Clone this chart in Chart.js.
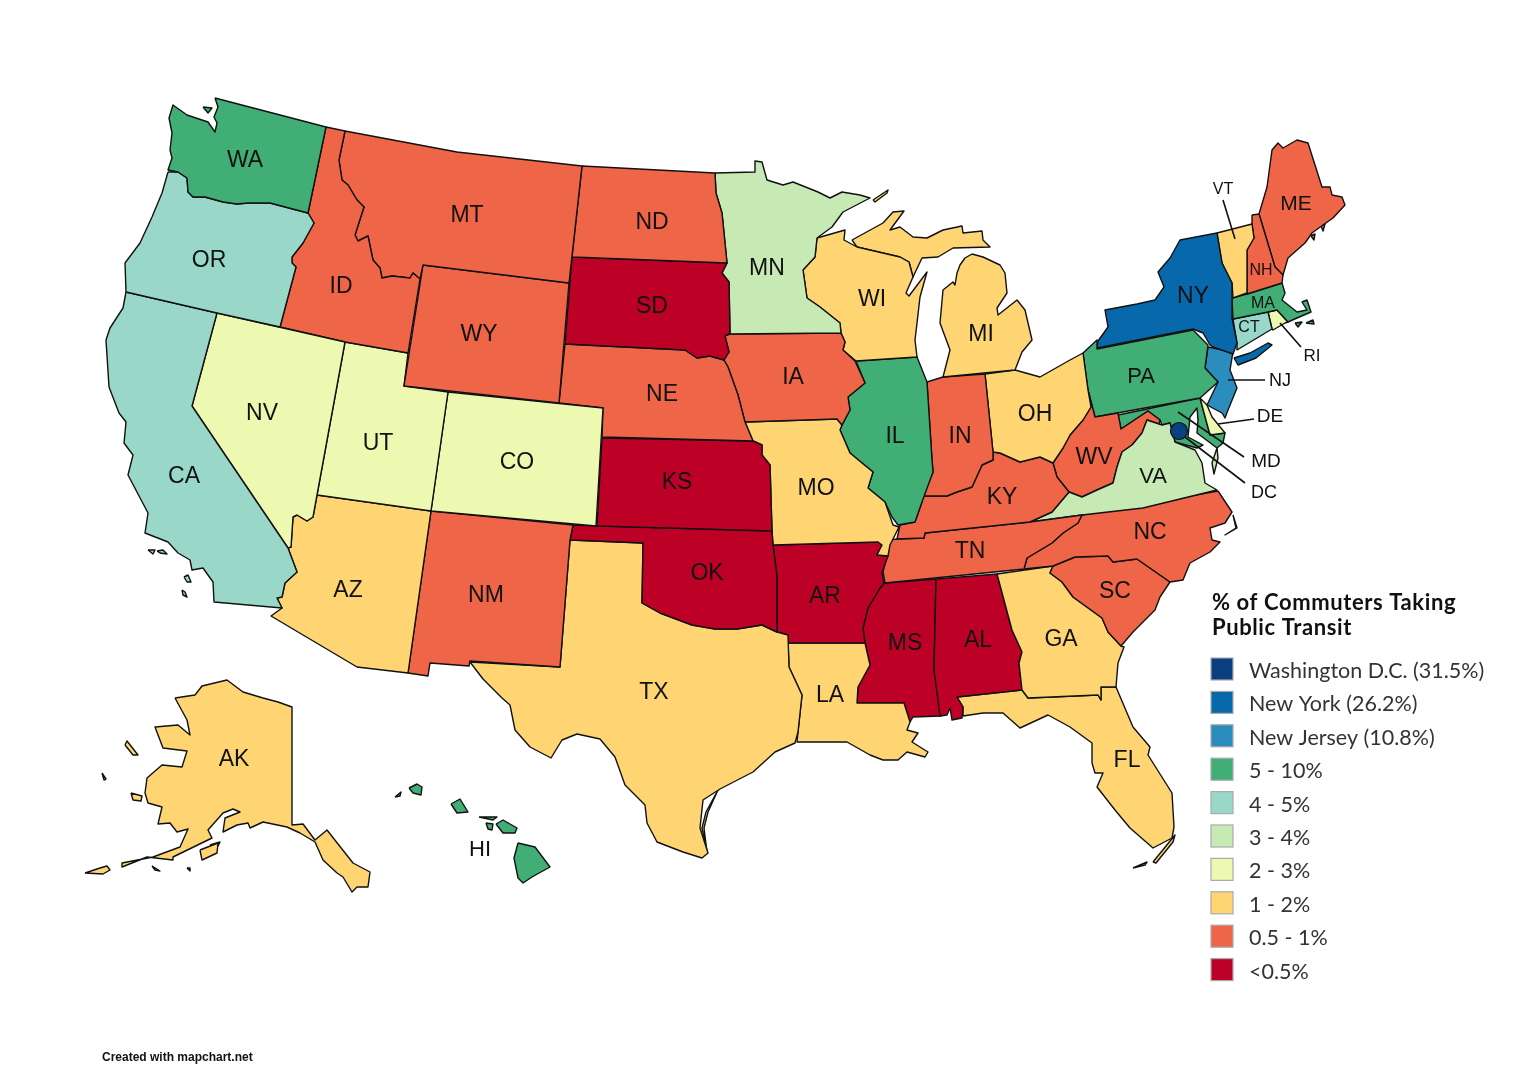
<!DOCTYPE html>
<html lang="en">
<head>
<meta charset="utf-8" />
<title>% of Commuters Taking Public Transit</title>
<style>
  html, body { margin: 0; background: #fff; }
  #wrap { width: 1536px; height: 1075px; }
</style>
</head>
<body>
<div id="wrap"><canvas id="map" width="1536" height="1075"></canvas></div>
<script src="https://cdn.jsdelivr.net/npm/chart.js@4.4.4/dist/chart.umd.min.js"></script>
<script>
// legend categories, top to bottom
const legendLabels = ['Washington D.C. (31.5%)','New York (26.2%)','New Jersey (10.8%)','5 - 10%','4 - 5%','3 - 4%','2 - 3%','1 - 2%','0.5 - 1%','<0.5%'];
const legendColors = ['#0a3f82','#0868ac','#2b8cbe','#41ae76','#99d8c9','#c7e9b4','#edf8b1','#fed572','#ef6548','#bd0026'];

// band of each state (index into legendLabels)
const bands = {
  NY:1, NJ:2,
  WA:3, IL:3, PA:3, MD:3, MA:3, HI:3,
  OR:4, CA:4, CT:4,
  MN:5, VA:5,
  NV:6, UT:6, CO:6, DE:6, RI:6,
  AZ:7, TX:7, LA:7, MO:7, WI:7, MI:7, OH:7, GA:7, FL:7, VT:7, AK:7,
  ID:8, MT:8, WY:8, NM:8, ND:8, NE:8, IA:8, IN:8, KY:8, TN:8, WV:8, NC:8, SC:8, ME:8, NH:8,
  SD:9, KS:9, OK:9, AR:9, MS:9, AL:9
};

// state outlines, one list per ring
const WA = [[[215,98],[326,127],[308,213],[270,203],[248,203],[237,204],[223,202],[205,197],[193,197],[188,192],[187,178],[178,172],[168,170],[172,158],[170,150],[172,133],[169,118],[173,105],[187,115],[208,122],[215,132],[217,123],[214,117],[218,107]],[[203,107],[212,108],[208,113]]];
const OR = [[[168,172],[178,172],[187,178],[188,192],[193,197],[205,197],[223,202],[237,204],[248,203],[270,203],[308,213],[314,223],[303,243],[292,257],[292,263],[296,267],[280,327],[217,313],[126,292],[125,263],[140,243],[152,217],[162,193]]];
const CA = [[[126,292],[217,313],[192,406],[288,548],[297,572],[285,583],[282,597],[277,598],[282,608],[214,602],[213,582],[203,568],[192,570],[190,560],[178,553],[168,542],[145,533],[148,513],[128,475],[133,455],[124,443],[126,422],[119,413],[109,387],[106,340],[110,328],[123,308]],[[148,550],[155,550],[153,554]],[[157,551],[163,550],[167,554],[160,553]],[[184,577],[188,575],[191,582],[187,582]],[[182,590],[185,592],[187,597],[183,595]]];
const NV = [[[217,313],[345,342],[317,495],[313,517],[307,521],[297,515],[293,517],[291,547],[288,548],[192,406]]];
const ID = [[[326,127],[345,131],[339,160],[342,180],[348,185],[357,200],[364,207],[355,235],[358,241],[368,236],[373,260],[380,268],[382,278],[392,276],[410,278],[413,273],[420,279],[408,353],[345,342],[280,327],[296,267],[292,263],[292,257],[303,243],[314,223],[308,213]]];
const MT = [[[345,131],[457,152],[582,166],[569,283],[423,265],[420,279],[413,273],[410,278],[392,276],[382,278],[380,268],[373,260],[368,236],[358,241],[355,235],[364,207],[357,200],[348,185],[342,180],[339,160]]];
const WY = [[[423,265],[569,283],[559,403],[404,386]]];
const UT = [[[345,342],[408,353],[404,386],[448,392],[431,511],[317,495]]];
const CO = [[[448,392],[603,408],[596,526],[431,511]]];
const AZ = [[[317,495],[431,511],[408,673],[357,667],[271,616],[282,608],[277,598],[282,597],[285,583],[297,572],[288,548],[291,547],[293,517],[297,515],[307,521],[313,517]]];
const NM = [[[431,511],[573,525],[570,540],[560,667],[470,661],[469,666],[430,663],[428,676],[408,673]]];
const ND = [[[582,166],[715,173],[716,193],[722,213],[727,263],[572,257]]];
const SD = [[[572,257],[727,263],[722,273],[729,282],[730,333],[725,336],[729,352],[724,360],[710,356],[697,358],[685,350],[565,344]]];
const NE = [[[565,344],[685,350],[697,358],[710,356],[724,360],[728,367],[738,395],[745,422],[753,441],[602,437],[603,408],[559,403]]];
const KS = [[[602,438],[753,441],[762,445],[762,455],[770,465],[772,531],[597,526]]];
const OK = [[[573,525],[772,531],[773,545],[777,577],[777,632],[762,625],[737,629],[715,629],[692,625],[660,613],[642,603],[643,543],[570,540]]];
const TX = [[[570,540],[643,543],[642,603],[660,613],[692,625],[715,629],[737,629],[762,625],[777,632],[788,635],[789,667],[802,695],[798,732],[795,743],[775,752],[753,772],[720,789],[703,800],[700,828],[708,853],[702,858],[683,852],[657,842],[647,823],[645,805],[625,785],[615,757],[600,739],[577,734],[562,740],[551,758],[530,747],[515,730],[510,705],[502,698],[483,679],[470,662],[560,667]],[[718,790],[706,812],[702,828],[707,852],[704,828],[708,812]]];
const MN = [[[715,173],[755,172],[755,161],[762,162],[767,180],[783,185],[793,182],[818,192],[830,198],[842,192],[860,195],[870,198],[843,212],[832,227],[817,238],[815,257],[803,270],[807,298],[820,307],[840,323],[841,333],[730,334],[729,282],[722,273],[727,263],[722,213],[716,193]]];
const IA = [[[730,334],[725,336],[729,352],[724,360],[728,367],[738,395],[745,422],[837,419],[842,425],[850,410],[848,397],[865,383],[855,361],[843,350],[845,342],[841,333]]];
const MO = [[[745,422],[837,419],[842,425],[840,430],[850,453],[862,463],[873,472],[868,488],[885,502],[893,525],[899,527],[890,545],[888,556],[877,555],[882,545],[878,542],[773,545],[772,531],[770,465],[762,455],[762,445],[753,441]]];
const AR = [[[773,545],[878,542],[882,545],[877,555],[888,556],[882,573],[884,583],[880,588],[868,608],[863,628],[865,643],[788,643],[788,635],[777,632],[777,577]]];
const LA = [[[788,643],[865,643],[870,665],[858,687],[857,703],[904,703],[910,722],[907,730],[918,733],[912,742],[928,752],[925,757],[907,752],[898,760],[883,760],[870,755],[847,742],[810,742],[797,742],[798,732],[802,695],[789,667]]];
const WI = [[[817,238],[845,230],[844,240],[857,247],[900,257],[909,262],[913,277],[906,293],[909,296],[927,272],[920,297],[917,323],[915,340],[917,357],[856,361],[843,350],[845,342],[841,333],[840,323],[820,307],[807,298],[803,270],[815,257]]];
const MI = [[[852,240],[883,223],[893,212],[904,211],[890,230],[900,227],[913,237],[927,238],[943,230],[962,226],[963,233],[982,231],[983,240],[990,247],[953,248],[938,257],[922,258],[913,277],[909,262],[900,257],[857,247]],[[972,254],[983,257],[1000,265],[1005,273],[1007,293],[997,308],[998,315],[1017,300],[1025,310],[1032,340],[1022,352],[1015,370],[943,377],[950,350],[940,323],[943,290],[953,282],[955,285],[957,273],[960,265],[965,258]],[[873,200],[888,190],[887,193],[875,202]]];
const IL = [[[856,361],[917,357],[927,382],[932,460],[933,472],[922,502],[915,522],[898,525],[892,517],[885,502],[868,488],[873,472],[862,463],[850,453],[840,430],[842,425],[850,410],[848,397],[865,383]]];
const IN = [[[927,382],[943,377],[985,374],[993,452],[993,460],[982,465],[972,487],[957,492],[947,496],[923,496],[933,472],[932,460]]];
const OH = [[[985,374],[1015,370],[1040,377],[1070,360],[1083,353],[1088,390],[1091,407],[1083,420],[1070,435],[1063,448],[1053,463],[1040,457],[1020,462],[1000,453],[993,452]]];
const KY = [[[993,452],[1000,453],[1020,462],[1040,457],[1053,463],[1057,477],[1069,492],[1052,512],[1030,522],[925,533],[924,538],[897,539],[900,525],[915,522],[922,502],[923,496],[947,496],[957,492],[972,487],[982,465],[993,460]]];
const TN = [[[897,539],[924,538],[925,533],[1030,522],[1082,515],[1078,523],[1063,533],[1052,543],[1027,558],[1024,569],[885,583],[883,572],[890,540]]];
const VA = [[[1069,492],[1082,497],[1097,490],[1113,483],[1117,467],[1122,452],[1132,445],[1142,433],[1147,420],[1162,425],[1170,423],[1175,442],[1195,450],[1202,463],[1205,483],[1217,490],[1143,508],[1082,515],[1030,522],[1052,512]],[[1217,448],[1212,463],[1214,474],[1218,458]]];
const WV = [[[1088,390],[1095,417],[1118,413],[1121,429],[1148,411],[1160,420],[1159,424],[1147,420],[1142,433],[1132,445],[1122,452],[1117,467],[1113,483],[1097,490],[1082,497],[1069,492],[1057,477],[1053,463],[1063,448],[1070,435],[1083,420],[1091,407]]];
const PA = [[[1083,353],[1097,340],[1097,349],[1193,330],[1208,345],[1205,368],[1218,382],[1200,398],[1095,417],[1088,390]]];
const NY = [[[1097,348],[1098,341],[1108,327],[1105,310],[1137,304],[1155,300],[1164,287],[1158,272],[1170,258],[1180,240],[1217,233],[1222,263],[1232,283],[1232,318],[1237,343],[1233,354],[1213,347],[1210,345],[1203,333],[1193,329]],[[1234,358],[1250,353],[1268,343],[1272,345],[1256,358],[1238,365]]];
const NJ = [[[1208,347],[1233,352],[1230,370],[1237,388],[1228,410],[1225,418],[1222,413],[1207,405],[1218,382],[1205,368]]];
const DE = [[[1200,398],[1207,405],[1212,417],[1225,433],[1210,435]]];
const MD = [[[1118,415],[1200,398],[1210,435],[1225,433],[1223,443],[1217,448],[1197,433],[1198,420],[1197,408],[1190,417],[1188,437],[1203,445],[1197,448],[1175,442],[1170,423],[1162,425],[1160,420],[1148,411],[1121,429]]];
const VT = [[[1217,233],[1252,224],[1254,238],[1247,250],[1247,293],[1233,298],[1232,283],[1222,263]]];
const NH = [[[1252,215],[1259,214],[1275,267],[1283,275],[1282,283],[1247,294],[1247,250],[1254,238],[1252,224]]];
const ME = [[[1259,214],[1267,187],[1272,150],[1278,143],[1283,148],[1297,140],[1308,143],[1322,187],[1330,187],[1332,195],[1342,197],[1345,205],[1333,218],[1323,225],[1312,233],[1305,243],[1288,258],[1283,275],[1275,267]],[[1311,236],[1315,234],[1314,240]],[[1321,226],[1325,224],[1323,231]]];
const MA = [[[1232,298],[1247,294],[1282,283],[1285,293],[1282,300],[1297,312],[1307,310],[1302,302],[1307,300],[1311,312],[1297,318],[1288,322],[1277,310],[1268,312],[1233,319]],[[1295,323],[1302,322],[1298,327]],[[1306,323],[1313,320],[1314,324]]];
const CT = [[[1233,319],[1268,312],[1272,329],[1237,350],[1237,343]]];
const RI = [[[1268,312],[1277,310],[1288,322],[1285,323],[1273,330],[1272,329]]];
const NC = [[[1218,491],[1232,512],[1225,523],[1210,528],[1212,540],[1220,542],[1210,552],[1190,563],[1183,580],[1170,582],[1137,559],[1113,562],[1108,556],[1075,557],[1053,566],[1024,569],[1027,558],[1052,543],[1063,533],[1078,523],[1082,515]],[[1233,515],[1237,528],[1225,535],[1236,528]]];
const SC = [[[1053,566],[1075,557],[1108,556],[1113,562],[1137,559],[1170,582],[1160,597],[1155,610],[1133,632],[1121,646],[1108,632],[1102,618],[1073,597],[1062,582],[1050,573]]];
const GA = [[[997,574],[1053,566],[1050,573],[1062,582],[1073,597],[1102,618],[1108,632],[1121,646],[1124,647],[1118,663],[1116,687],[1101,687],[1101,700],[1098,695],[1028,698],[1022,690],[1019,663],[1022,652],[1012,630]]];
const AL = [[[936,579],[997,574],[1012,630],[1022,652],[1019,663],[1022,690],[957,697],[963,707],[962,718],[952,720],[950,708],[947,715],[940,716],[934,670]]];
const MS = [[[885,583],[936,579],[934,670],[941,716],[913,717],[910,722],[904,703],[857,703],[858,687],[870,665],[865,643],[863,628],[868,608],[880,588]]];
const FL = [[[957,697],[1022,690],[1028,698],[1098,695],[1101,700],[1101,687],[1116,687],[1133,727],[1150,747],[1148,755],[1172,793],[1174,827],[1172,838],[1153,848],[1130,828],[1115,810],[1097,787],[1103,773],[1095,773],[1092,763],[1092,743],[1070,727],[1048,715],[1020,728],[1003,713],[983,713],[963,716],[963,707]],[[1133,868],[1147,862],[1145,865]],[[1153,862],[1175,835],[1173,842],[1156,863]]];
const AK = [[[175,698],[195,695],[202,686],[227,680],[243,692],[263,698],[278,702],[292,707],[292,825],[303,824],[315,840],[327,830],[353,863],[370,872],[368,887],[357,887],[352,892],[343,877],[337,873],[323,860],[315,842],[300,833],[287,827],[263,822],[250,828],[248,823],[237,825],[223,832],[225,818],[240,812],[233,809],[223,813],[208,830],[212,838],[173,857],[173,860],[147,857],[122,867],[122,863],[153,857],[180,847],[188,829],[177,832],[170,823],[158,824],[162,807],[148,803],[145,793],[147,778],[162,765],[182,767],[187,751],[163,748],[155,727],[178,725],[190,735],[187,720]],[[125,745],[127,741],[138,755],[133,755]],[[131,793],[142,796],[141,801],[133,800]],[[102,773],[106,779],[104,780]],[[200,850],[218,843],[217,853],[202,860]],[[210,845],[220,842],[218,846]],[[85,873],[100,868],[107,866],[110,870],[103,874]],[[152,866],[160,871],[155,870]],[[187,868],[190,868],[190,871]]];
const HI = [[[395,797],[401,792],[400,796]],[[409,788],[417,784],[422,787],[421,795],[413,793]],[[451,804],[460,799],[468,812],[457,813]],[[479,817],[497,817],[493,820]],[[486,823],[493,824],[492,830],[488,829]],[[496,824],[503,820],[517,828],[515,833],[503,833]],[[518,843],[535,847],[550,867],[532,877],[523,883],[518,878],[514,858]]];

const outlines = {WA,OR,CA,NV,ID,MT,WY,UT,CO,AZ,NM,ND,SD,NE,KS,OK,TX,MN,IA,MO,AR,LA,WI,MI,IL,IN,OH,KY,TN,VA,WV,PA,NY,NJ,DE,MD,VT,NH,ME,MA,CT,RI,NC,SC,GA,AL,MS,FL,AK,HI};

// state abbreviations and where they sit: [text, x, y, font px]
const stateLabels = [
  ['WA',245,159,23],['OR',209,259,23],['CA',184,475,23],['NV',262,412,23],['ID',341,285,23],['MT',467,214,23],
  ['WY',479,333,23],['UT',378,442,23],['CO',517,461,23],['AZ',348,589,23],['NM',486,594,23],['ND',652,221,23],
  ['SD',652,305,23],['NE',662,393,23],['KS',677,481,23],['OK',707,572,23],['TX',654,691,23],['MN',767,267,23],
  ['IA',793,376,23],['MO',816,487,23],['AR',825,595,23],['LA',830,694,23],['WI',872,298,23],['IL',895,435,23],
  ['MI',981,333,23],['IN',960,435,23],['OH',1035,413,23],['KY',1002,496,23],['TN',970,550,23],['MS',905,642,23],
  ['AL',978,639,23],['GA',1061,638,23],['FL',1127,759,23],['SC',1115,590,23],['NC',1150,531,23],['VA',1153,475,22],
  ['WV',1094,456,23],['PA',1141,375,22],['NY',1193,295,23],['ME',1296,202,21],['VT',1223,188,16],['NH',1261,269,16],
  ['MA',1263,302,16],['CT',1249,326,16],['RI',1312,354,17],['NJ',1280,379,18],['DE',1270,415,19],['MD',1266,460,19],
  ['DC',1264,491,18],['AK',234,758,23],['HI',480,848,22]
];

// leader lines from small states to their labels
const leaders = [
  [[1223,200],[1235,239]],
  [[1280,323],[1301,347]],
  [[1228,380],[1265,380]],
  [[1218,424],[1254,419]],
  [[1178,412],[1244,457]],
  [[1185,437],[1245,483]]
];
const dcPoint = [[1179,431]];

const legendTitle = ['% of Commuters Taking','Public Transit'];
const credit = 'Created with mapchart.net';

const pts = ring => ring.map(([x, y]) => ({ x, y }));

const datasets = [];
Object.keys(outlines).forEach(st => {
  outlines[st].forEach(ring => {
    datasets.push({
      label: st,
      data: pts(ring.concat([ring[0]])),
      showLine: true,
      fill: 'shape',
      backgroundColor: legendColors[bands[st]],
      borderColor: '#111',
      borderWidth: 1.4,
      borderJoinStyle: 'round',
      pointRadius: 0,
      tension: 0
    });
  });
});
// lower order is painted later, so these stay above the states
leaders.forEach(l => {
  datasets.push({ label: 'leader', order: -1, data: pts(l), showLine: true, fill: false, borderColor: '#111', borderWidth: 1.6, pointRadius: 0 });
});
datasets.push({ label: 'DC', order: -2, data: pts(dcPoint), pointRadius: 8.5, pointBackgroundColor: legendColors[0], pointBorderColor: '#111', pointBorderWidth: 1.2 });

// text on top: state labels, legend, credit line
const mapText = {
  id: 'mapText',
  afterDatasetsDraw(chart) {
    const ctx = chart.ctx, sx = chart.scales.x, sy = chart.scales.y;
    ctx.save();
    ctx.fillStyle = '#111';
    ctx.textAlign = 'center';
    ctx.textBaseline = 'middle';
    stateLabels.forEach(([t, x, y, s]) => {
      ctx.font = s + 'px "Liberation Sans"';
      ctx.fillText(t, sx.getPixelForValue(x), sy.getPixelForValue(y) + 2);
    });

    ctx.textAlign = 'left';
    ctx.fillStyle = '#111';
    ctx.font = 'bold 22px Lato';
    ctx.letterSpacing = '0.6px';
    legendTitle.forEach((t, i) => ctx.fillText(t, 1212, 603 + i * 25));

    ctx.font = '21.5px Lato';
    ctx.letterSpacing = '0px';
    legendLabels.forEach((t, i) => {
      const y = 669 + i * 33.4;
      ctx.fillStyle = legendColors[i];
      ctx.strokeStyle = '#aaa';
      ctx.lineWidth = 1.2;
      ctx.fillRect(1211, y - 11, 22, 22);
      ctx.strokeRect(1211, y - 11, 22, 22);
      ctx.fillStyle = '#333';
      ctx.fillText(t, 1249, y + 2);
    });

    ctx.fillStyle = '#111';
    ctx.font = 'bold 12px "Liberation Sans"';
    ctx.fillText(credit, 102, 1058);
    ctx.restore();
  }
};

new Chart(document.getElementById('map'), {
  type: 'scatter',
  data: { datasets },
  plugins: [mapText],
  options: {
    responsive: false,
    animation: false,
    layout: { padding: 0, autoPadding: false },
    scales: {
      x: { type: 'linear', min: 0, max: 1536, display: false },
      y: { type: 'linear', min: 0, max: 1075, reverse: true, display: false }
    },
    plugins: { legend: { display: false }, tooltip: { enabled: false }, title: { display: false } }
  }
});
</script>
</body>
</html>
